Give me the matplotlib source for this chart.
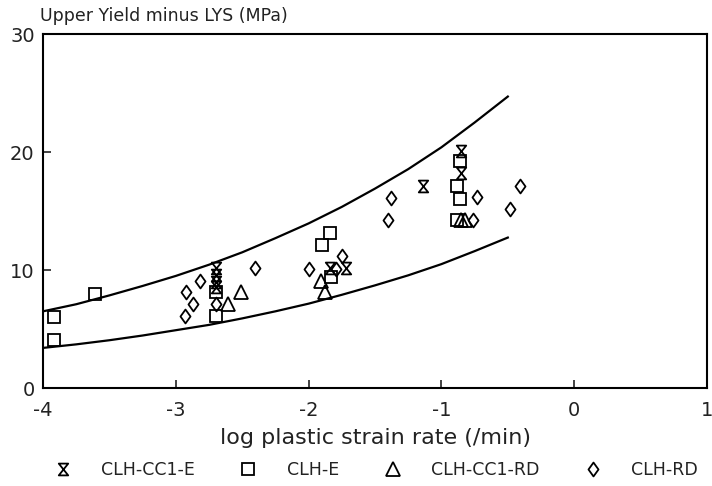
import matplotlib
matplotlib.use("Agg")
import matplotlib.pyplot as plt
from matplotlib.path import Path

plt.rcParams['font.family'] = ['DejaVu Sans']

# band curves
band_x = [-4.0, -3.75, -3.5, -3.25, -3.0, -2.75, -2.5, -2.25, -2.0, -1.75, -1.5, -1.25, -1.0, -0.75, -0.5]
upper_y = [6.5, 7.1, 7.85, 8.65, 9.5, 10.45, 11.5, 12.7, 13.95, 15.35, 16.9, 18.55, 20.4, 22.5, 24.7]
lower_y = [3.4, 3.7, 4.05, 4.45, 4.9, 5.35, 5.9, 6.5, 7.15, 7.9, 8.7, 9.55, 10.5, 11.6, 12.75]

# CLH-CC1-E
cc1e_x = [-2.70, -2.70, -2.70, -2.70, -1.84, -1.72, -1.14, -0.85, -0.85]
cc1e_y = [10.2, 9.6, 9.0, 8.6, 10.2, 10.2, 17.1, 20.1, 18.2]
# CLH-E
e_x = [-3.92, -3.92, -3.61, -2.70, -2.70, -1.90, -1.84, -1.83, -0.88, -0.86, -0.86, -0.88]
e_y = [6.0, 4.1, 8.0, 8.1, 6.1, 12.1, 13.1, 9.4, 17.1, 19.2, 16.0, 14.2]
# CLH-CC1-RD
cc1rd_x = [-2.61, -2.51, -1.91, -1.88, -0.82, -0.85]
cc1rd_y = [7.1, 8.1, 9.1, 8.1, 14.2, 14.2]
# CLH-RD
rd_x = [-2.92, -2.87, -2.93, -2.82, -2.40, -2.70, -2.00, -1.75, -1.79, -1.38, -1.40, -0.73, -0.48, -0.41, -0.76]
rd_y = [8.1, 7.1, 6.1, 9.1, 10.2, 7.1, 10.1, 11.2, 10.1, 16.1, 14.2, 16.2, 15.2, 17.1, 14.2]

hourglass = Path([(-0.8, 1), (0.8, 1), (-0.8, -1), (0.8, -1), (-0.8, 1)],
                 [Path.MOVETO, Path.LINETO, Path.LINETO, Path.LINETO, Path.CLOSEPOLY])
diamond = Path([(0, 1), (0.72, 0), (0, -1), (-0.72, 0), (0, 1)],
               [Path.MOVETO, Path.LINETO, Path.LINETO, Path.LINETO, Path.CLOSEPOLY])

fig = plt.figure(figsize=(7.12, 4.86), dpi=100)
ax = fig.add_axes([0.0604, 0.2016, 0.9326, 0.7284])

ax.plot(band_x, upper_y, color='black', linewidth=1.6)
ax.plot(band_x, lower_y, color='black', linewidth=1.6)

mk = dict(linestyle='none', markerfacecolor='none', markeredgecolor='black', markeredgewidth=1.3)
ax.plot(cc1e_x, cc1e_y, marker=hourglass, markersize=8.5, label='CLH-CC1-E', **mk)
ax.plot(e_x, e_y, marker='s', markersize=8, label='CLH-E', **mk)
ax.plot(cc1rd_x, cc1rd_y, marker='^', markersize=9.5, label='CLH-CC1-RD', **mk)
ax.plot(rd_x, rd_y, marker=diamond, markersize=10, label='CLH-RD', **mk)

ax.set_xlim(-4, 1)
ax.set_ylim(0, 30)
ax.set_xticks([-4, -3, -2, -1, 0, 1])
ax.set_xticklabels(['-4', '-3', '-2', '-1', '0', '1'])
ax.set_yticks([0, 10, 20, 30])
ax.tick_params(direction='in', length=6, width=1.2, labelsize=14, colors='#222222')
ax.tick_params(axis='x', pad=9)
ax.tick_params(axis='y', pad=6)
for s in ax.spines.values():
    s.set_linewidth(1.5)

ax.set_xlabel('log plastic strain rate (/min)', fontsize=16, color='#222222', labelpad=6)
fig.text(0.056, 0.967, 'Upper Yield minus LYS (MPa)', fontsize=12.5, color='#222222', va='center')

fig.legend(loc='center', bbox_to_anchor=(0.528, 1 - 470 / 486), ncol=4, frameon=False,
           fontsize=12.5, handletextpad=1.7, columnspacing=2.6, handlelength=1.0,
           labelcolor='#222222')

plt.savefig('out.png', dpi=100)
